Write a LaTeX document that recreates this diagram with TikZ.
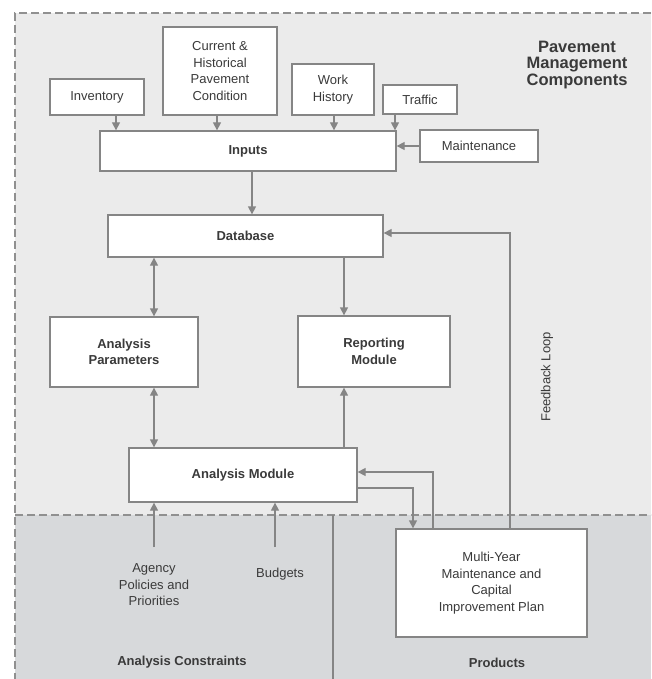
\documentclass[tikz,border=0pt]{standalone}
\usepackage{fontspec}
\setmainfont{Liberation Sans}
\usetikzlibrary{arrows.meta}
\definecolor{topbg}{HTML}{EBEBEB}
\definecolor{botbg}{HTML}{D7D9DB}
\definecolor{ln}{HTML}{858585}
\definecolor{txt}{HTML}{3A3A3A}
\definecolor{dashcol}{HTML}{909090}
\begin{document}
\begin{tikzpicture}[x=1pt,y=-1pt,
  box/.style={draw=ln, line width=1.3pt, fill=white, text=txt, align=center, inner sep=0pt, font=\fontsize{13}{16.5}\selectfont},
  bbox/.style={box, font=\fontsize{13}{16.5}\selectfont\bfseries},
  lbl/.style={text=txt, align=center, inner sep=0pt, font=\fontsize{13}{16.5}\selectfont},
  blbl/.style={lbl, font=\fontsize{13}{16.5}\selectfont\bfseries},
  arr/.style={draw=ln, line width=1.3pt, -{Triangle[length=8pt,width=8pt]}},
  darr/.style={draw=ln, line width=1.3pt, {Triangle[length=8pt,width=8pt]}-{Triangle[length=8pt,width=8pt]}},
  plain/.style={draw=ln, line width=1.3pt},
  region/.style={draw=dashcol, line width=1.1pt, dash pattern=on 8pt off 4pt}]
\useasboundingbox (0,0) rectangle (651,679);
\fill[white] (0,0) rectangle (651,679);
% regions
\fill[topbg] (15,13) rectangle (651,515);
\fill[botbg] (15,515) rectangle (651,679);
\draw[region] (651,13) -- (15,13) -- (15,679);
\draw[region] (15,515) -- (651,515);
\draw[plain] (333,515) -- (333,679);
% title
\node[text=txt, align=center, inner sep=0pt, font=\fontsize{16.5}{16.2}\selectfont\bfseries] (title) at (577,65) {Pavement\\Management\\Components};
% boxes
\node[box, minimum width=94pt, minimum height=36pt] (inv) at (97,97) {Inventory};
\node[box, minimum width=114pt, minimum height=88pt] (cur) at (220,71) {Current \&\\Historical\\Pavement\\Condition};
\node[box, minimum width=82pt, minimum height=51pt] (wh) at (333,89.5) {Work\\History};
\node[box, minimum width=74pt, minimum height=29pt] (trf) at (420,99.5) {Traffic};
\node[bbox, minimum width=296pt, minimum height=40pt] (inp) at (248,151) {Inputs};
\node[box, minimum width=118pt, minimum height=32pt] (mnt) at (479,146) {Maintenance};
\node[bbox, minimum width=275pt, minimum height=42pt] (db) at (245.5,236) {Database};
\node[bbox, minimum width=148pt, minimum height=70pt] (ap) at (124,352) {Analysis\\Parameters};
\node[bbox, minimum width=152pt, minimum height=71pt] (rm) at (374,351.5) {Reporting\\Module};
\node[bbox, minimum width=228pt, minimum height=54pt] (am) at (243,475) {Analysis Module};
\node[box, minimum width=191pt, minimum height=108pt] (my) at (491.5,583) {Multi-Year\\Maintenance and\\Capital\\Improvement Plan};
% labels
\node[lbl] (agency) at (154,585) {Agency\\Policies and\\Priorities};
\node[lbl] (budgets) at (280,574) {Budgets};
\node[blbl] (constr) at (182,662) {Analysis Constraints};
\node[blbl] (prod) at (497,663) {Products};
\node[lbl, rotate=90] (fb) at (547,377) {Feedback Loop};
\coordinate (agtop) at (154,547);
\coordinate (bgtop) at (275,547);
% connectors
\draw[arr] ([xshift=19pt]inv.south) -- ([xshift=19pt]inv.south |- inp.north);
\draw[arr] ([xshift=-3pt]cur.south) -- ([xshift=-3pt]cur.south |- inp.north);
\draw[arr] ([xshift=1pt]wh.south) -- ([xshift=1pt]wh.south |- inp.north);
\draw[arr] ([xshift=-25pt]trf.south) -- ([xshift=-25pt]trf.south |- inp.north);
\draw[arr] (mnt.west) -- (mnt.west -| inp.east);
\draw[arr] ([xshift=4pt]inp.south) -- ([xshift=4pt]inp.south |- db.north);
\draw[darr] ([xshift=30pt]ap.north |- db.south) -- ([xshift=30pt]ap.north);
\draw[arr] ([xshift=-30pt]rm.north |- db.south) -- ([xshift=-30pt]rm.north);
\draw[darr] ([xshift=30pt]ap.south) -- ([xshift=30pt]ap.south |- am.north);
\draw[arr] ([xshift=-30pt]rm.south |- am.north) -- ([xshift=-30pt]rm.south);
\draw[arr] (agtop) -- (agtop |- am.south);
\draw[arr] (bgtop) -- (bgtop |- am.south);
\draw[arr] ([yshift=-13pt]am.east) -| ([xshift=-78.5pt]my.north);
\draw[arr] ([xshift=-58.5pt]my.north) |- ([yshift=3pt]am.east);
\draw[arr] ([xshift=18.5pt]my.north) |- ([yshift=3pt]db.east);
\end{tikzpicture}
\end{document}
